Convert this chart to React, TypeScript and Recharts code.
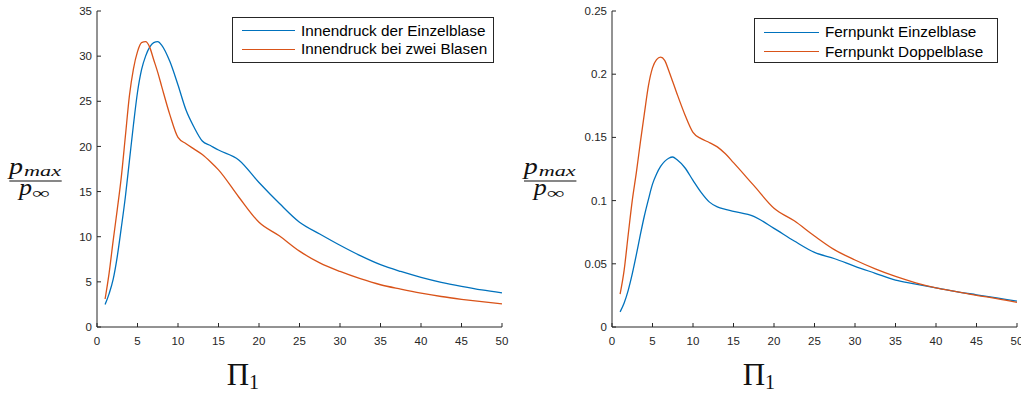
import React from 'react';
import { LineChart, Line, XAxis, YAxis, Legend } from 'recharts';

// Π1 sample positions (shared by all series)
const PI_1 = [1, 1.5, 2, 2.5, 3, 3.5, 4, 4.5, 5, 5.5, 6, 6.5, 7, 7.5, 8, 9, 10, 11, 12, 13, 14, 15, 17.5, 20, 22.5, 25, 27.5, 30, 32.5, 35, 37.5, 40, 42.5, 45, 47.5, 50];

// left panel: p_max / p_inf (inner pressure)
const innendruckEinzel = [2.5, 3.7, 5.3, 7.8, 11.0, 14.4, 18.4, 22.4, 26.0, 28.5, 30.0, 31.0, 31.5, 31.6, 31.2, 29.4, 26.8, 24.0, 22.1, 20.6, 20.1, 19.6, 18.5, 16.0, 13.7, 11.6, 10.3, 9.05, 7.9, 6.9, 6.15, 5.5, 4.95, 4.5, 4.1, 3.78];
const innendruckZwei = [3.1, 6.0, 9.6, 13.0, 16.6, 21.1, 25.6, 28.6, 30.5, 31.5, 31.6, 31.0, 29.6, 28.2, 26.6, 23.5, 21.0, 20.3, 19.7, 19.1, 18.3, 17.4, 14.4, 11.6, 10.1, 8.4, 7.1, 6.15, 5.35, 4.68, 4.2, 3.76, 3.38, 3.07, 2.8, 2.56];

// right panel: p_max / p_inf (far point)
const fernEinzel = [0.012, 0.019, 0.029, 0.042, 0.057, 0.073, 0.088, 0.101, 0.113, 0.121, 0.127, 0.131, 0.1335, 0.1345, 0.1325, 0.126, 0.116, 0.1065, 0.099, 0.095, 0.093, 0.0915, 0.0875, 0.078, 0.068, 0.059, 0.054, 0.048, 0.0425, 0.037, 0.034, 0.031, 0.028, 0.0255, 0.023, 0.0205];
const fernDoppel = [0.026, 0.045, 0.073, 0.1, 0.122, 0.146, 0.169, 0.191, 0.205, 0.2115, 0.2135, 0.211, 0.203, 0.194, 0.185, 0.168, 0.154, 0.149, 0.146, 0.1425, 0.137, 0.13, 0.112, 0.094, 0.084, 0.072, 0.061, 0.053, 0.046, 0.04, 0.035, 0.031, 0.028, 0.025, 0.0225, 0.0195];

const xTicks = [0, 5, 10, 15, 20, 25, 30, 35, 40, 45, 50];
const yTicksLeft = [0, 5, 10, 15, 20, 25, 30, 35];
const yTicksRight = [0, 0.05, 0.1, 0.15, 0.2, 0.25];

const leftData = PI_1.map((x, i) => ({ x, a: innendruckEinzel[i], b: innendruckZwei[i] }));
const rightData = PI_1.map((x, i) => ({ x, a: fernEinzel[i], b: fernDoppel[i] }));

const BLUE = '#0072BD';
const ORANGE = '#D95319';
const AXIS = '#262626';
const SANS = '"Liberation Sans", Arial, Helvetica, sans-serif';
const SERIF = '"Liberation Serif", "Times New Roman", serif';

type LegendCfg = { lineLeft: number; lineLen: number; textLeft: number; rows: number[] };

const makeLegend = (cfg: LegendCfg) => (props: any) => {
  const payload = ((props && props.payload) || [])
    .slice()
    .sort((p: any, q: any) => String(p.dataKey).localeCompare(String(q.dataKey)));
  return (
    <div
      style={{
        position: 'relative',
        width: '100%',
        height: '100%',
        border: `1px solid ${AXIS}`,
        background: '#fff',
        boxSizing: 'border-box',
      }}
    >
      {payload.map((it: any, i: number) => (
        <React.Fragment key={i}>
          <div
            style={{
              position: 'absolute',
              left: cfg.lineLeft,
              top: cfg.rows[i] - 0.65,
              width: cfg.lineLen,
              height: 1.3,
              background: it.color,
            }}
          />
          <div
            style={{
              position: 'absolute',
              left: cfg.textLeft,
              top: cfg.rows[i] - 10,
              height: 20,
              lineHeight: '20px',
              fontSize: 15.3,
              fontFamily: SANS,
              color: '#000',
              whiteSpace: 'nowrap',
            }}
          >
            {it.value}
          </div>
        </React.Fragment>
      ))}
    </div>
  );
};

const tickStyle = { fill: AXIS, fontSize: 11.5, fontFamily: SANS };

function AxisLabels({ dx, dxPi }: { dx: number; dxPi: number }) {
  return (
    <g fill="#111">
      <text x={9 + dx} y={174} fontFamily={SERIF} fontStyle="italic" fontSize={23} textLength={14} lengthAdjust="spacingAndGlyphs">p</text>
      <text x={24 + dx} y={175.5} fontFamily={SERIF} fontStyle="italic" fontSize={15} textLength={37} lengthAdjust="spacingAndGlyphs">max</text>
      <line x1={9.3 + dx} x2={61.7 + dx} y1={181} y2={181} stroke="#111" strokeWidth={1.1} />
      <text x={19 + dx} y={195.4} fontFamily={SERIF} fontStyle="italic" fontSize={23} textLength={13} lengthAdjust="spacingAndGlyphs">p</text>
      <text x={32.3 + dx} y={197.5} fontFamily={SERIF} fontSize={15} textLength={17.7} lengthAdjust="spacingAndGlyphs">∞</text>
      <text x={226.8 + dxPi} y={385} fontFamily={SERIF} fontSize={31}>Π</text>
      <text x={249 + dxPi} y={389.3} fontFamily={SERIF} fontSize={20}>1</text>
    </g>
  );
}

export default function App() {
  return (
    <div style={{ position: 'absolute', left: 0, top: 0, width: 1021, height: 394, background: '#fff', overflow: 'hidden' }}>
      <div style={{ position: 'absolute', left: 0, top: 0 }}>
        <LineChart width={510} height={394} data={leftData} margin={{ top: 11, right: 8, bottom: 0, left: 0 }}>
          <XAxis
            dataKey="x"
            type="number"
            domain={[0, 50]}
            ticks={xTicks}
            height={67}
            tickSize={-4}
            tickMargin={14}
            tick={tickStyle}
            axisLine={{ stroke: AXIS }}
            tickLine={{ stroke: AXIS }}
            interval={0}
          />
          <YAxis
            type="number"
            domain={[0, 35]}
            ticks={yTicksLeft}
            width={97}
            tickSize={-4}
            tickMargin={9}
            tick={tickStyle}
            axisLine={{ stroke: AXIS }}
            tickLine={{ stroke: AXIS }}
            interval={0}
          />
          <Legend
            layout="vertical"
            align="center"
            verticalAlign="middle"
            wrapperStyle={{ left: 232, top: 17, width: 262, height: 46 }}
            content={makeLegend({ lineLeft: 9, lineLen: 53, textLeft: 68, rows: [12.7, 31.3] })}
          />
          <Line type="monotone" dataKey="a" name="Innendruck der Einzelblase" stroke={BLUE} strokeWidth={1.3} dot={false} isAnimationActive={false} />
          <Line type="monotone" dataKey="b" name="Innendruck bei zwei Blasen" stroke={ORANGE} strokeWidth={1.3} dot={false} isAnimationActive={false} />
        </LineChart>
      </div>
      <div style={{ position: 'absolute', left: 510, top: 0 }}>
        <LineChart width={511} height={394} data={rightData} margin={{ top: 11, right: 4, bottom: 0, left: 0 }}>
          <XAxis
            dataKey="x"
            type="number"
            domain={[0, 50]}
            ticks={xTicks}
            height={67}
            tickSize={-4}
            tickMargin={14}
            tick={tickStyle}
            axisLine={{ stroke: AXIS }}
            tickLine={{ stroke: AXIS }}
            interval={0}
          />
          <YAxis
            type="number"
            domain={[0, 0.25]}
            ticks={yTicksRight}
            width={102}
            tickSize={-4}
            tickMargin={9}
            tick={tickStyle}
            axisLine={{ stroke: AXIS }}
            tickLine={{ stroke: AXIS }}
            interval={0}
          />
          <Legend
            layout="vertical"
            align="center"
            verticalAlign="middle"
            wrapperStyle={{ left: 244, top: 18, width: 244, height: 45 }}
            content={makeLegend({ lineLeft: 9, lineLen: 55, textLeft: 70, rows: [13.3, 32.7] })}
          />
          <Line type="monotone" dataKey="a" name="Fernpunkt Einzelblase" stroke={BLUE} strokeWidth={1.3} dot={false} isAnimationActive={false} />
          <Line type="monotone" dataKey="b" name="Fernpunkt Doppelblase" stroke={ORANGE} strokeWidth={1.3} dot={false} isAnimationActive={false} />
        </LineChart>
      </div>
      <svg
        width={1021}
        height={394}
        style={{ position: 'absolute', left: 0, top: 0, pointerEvents: 'none', overflow: 'visible' }}
      >
        <AxisLabels dx={0} dxPi={0} />
        <AxisLabels dx={514.7} dxPi={516} />
      </svg>
    </div>
  );
}
